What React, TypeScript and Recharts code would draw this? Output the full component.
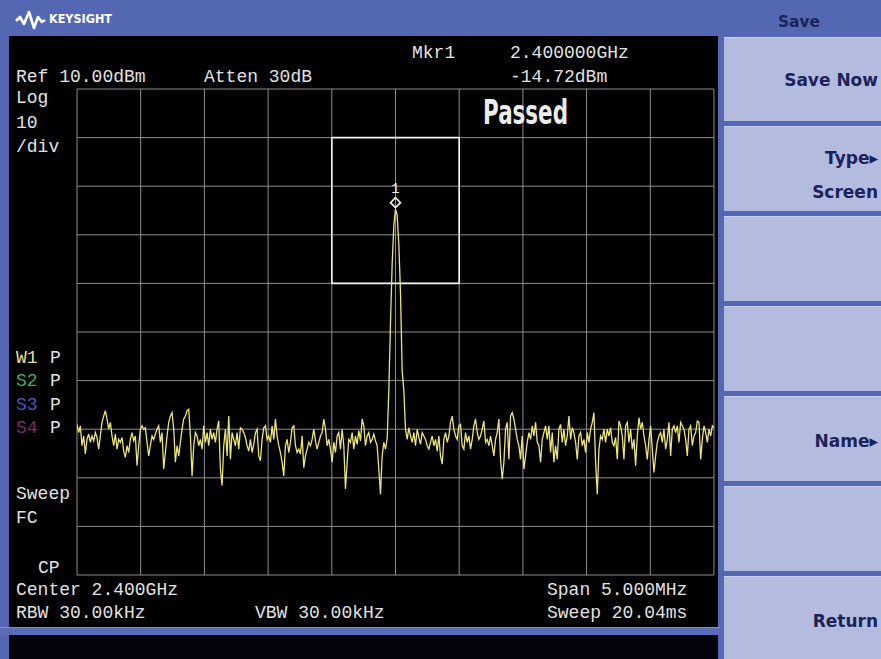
import { LineChart, Line, XAxis, YAxis, ReferenceDot, ReferenceLine } from 'recharts'

// analyzer settings
const centerMHz = 2400
const spanMHz = 5
const freqTicks = [2397.5, 2398, 2398.5, 2399, 2399.5, 2400, 2400.5, 2401, 2401.5, 2402, 2402.5]
const ampTicks = [-90, -80, -70, -60, -50, -40, -30, -20, -10, 0, 10]

// trace, dBm, left to right
const noiseA = [
  -59.0, -60.7, -59.3, -63.4, -61.4, -65.1, -62.1, -61.0, -62.7, -61.4,
  -62.4, -60.7, -61.7, -64.1, -61.4, -58.6, -57.3, -56.2, -57.9, -60.0,
  -58.6, -61.4, -63.4, -61.0, -64.1, -62.1, -62.7, -61.7, -64.5, -65.8,
  -63.4, -64.8, -62.1, -60.7, -62.4, -61.4, -67.5, -63.4, -60.0, -59.3,
  -60.0, -59.7, -62.7, -65.5, -63.4, -61.4, -62.1, -61.0, -60.0, -59.3,
  -62.7, -60.7, -68.2, -64.8, -61.4, -58.6, -57.3, -56.6, -60.0, -66.8,
  -63.4, -65.5, -62.7, -60.0, -57.9, -57.3, -56.2, -55.9, -61.4, -69.6,
  -63.4, -60.7, -61.4, -63.4, -62.1, -64.1, -59.3, -62.7, -60.7, -63.4,
  -60.0, -62.1, -60.7, -62.7, -60.0, -58.3, -68.2, -71.6, -63.4, -60.0,
  -65.5, -57.3, -66.2, -60.7,
]
const noiseB = [
  -62.1, -63.4, -60.7, -64.1, -59.7, -60.0, -60.7, -61.7, -63.4, -64.5,
  -62.1, -64.8, -63.1, -60.7, -60.0, -65.5, -66.5, -62.1, -59.7, -59.3,
  -62.1, -61.4, -62.7, -59.3, -62.1, -57.9, -61.4, -63.4, -64.8, -66.8,
  -69.6, -63.4, -62.1, -64.8, -62.7, -59.7, -59.3, -63.4, -64.8, -64.1,
  -65.1, -61.4, -67.9, -65.5, -64.1, -62.7, -63.4, -62.1, -60.0, -62.4,
  -64.1, -62.7, -61.4, -60.7, -57.9, -60.0, -63.4, -62.1, -64.1, -66.8,
  -62.7, -64.8, -61.4, -60.7, -64.1, -60.0, -63.4, -72.3, -66.8, -62.1,
  -62.7, -60.7, -64.1, -61.4, -63.1, -60.3, -62.4, -57.9, -59.3, -63.4,
  -61.4, -60.7, -62.7, -62.1, -61.0, -62.4, -63.4, -68.2, -73.4, -65.5,
  -62.7, -64.1,
]
const carrier = [-62, -52, -38, -26, -18, -14.72, -16, -22, -32, -48, -52]
const noiseC = [
  -60.0, -62.1, -59.7, -61.4, -62.7, -60.7, -63.4, -60.0, -61.7, -63.1,
  -60.7, -61.4, -62.1, -63.4, -64.1, -62.7, -61.4, -63.4, -62.1, -64.5,
  -61.4, -65.5, -67.2, -62.1, -60.7, -62.7, -61.4, -58.6, -57.3, -60.0,
  -61.4, -62.1, -59.3, -59.0, -63.4, -64.1, -60.7, -62.7, -61.4, -64.1,
  -62.1, -59.3, -57.9, -60.7, -62.1, -61.4, -60.0, -58.3, -62.7, -62.1,
  -63.4, -61.4, -63.4, -65.5, -62.1, -60.7, -57.9, -66.2, -70.3, -66.8,
  -60.0, -58.6, -66.2, -57.3, -56.6, -57.9, -60.0, -62.1, -63.4, -66.2,
  -61.4, -68.2, -65.5, -62.7, -60.7, -62.1, -59.3, -61.4, -58.6, -62.7,
  -63.4, -66.8, -62.1, -60.7, -59.3, -62.1, -59.3, -64.8, -60.7, -66.8,
]
const noiseD = [
  -63.4, -66.2, -60.0, -59.0, -62.7, -60.0, -63.4, -61.4, -57.3, -62.1,
  -59.7, -60.7, -62.7, -66.2, -61.4, -60.7, -63.4, -62.1, -64.8, -60.7,
  -62.7, -60.0, -58.6, -56.6, -66.8, -73.4, -64.1, -61.4, -62.1, -60.0,
  -62.7, -60.0, -61.4, -59.7, -62.7, -63.4, -61.7, -66.2, -58.3, -59.3,
  -61.4, -66.2, -59.3, -58.6, -62.7, -60.0, -64.1, -62.1, -67.5, -61.4,
  -57.6, -60.0, -58.6, -61.4, -63.4, -66.2, -62.1, -59.3, -64.1, -68.9,
  -65.5, -62.7, -61.4, -60.7, -62.7, -60.0, -64.1, -62.1, -58.6, -65.5,
  -60.0, -59.3, -60.7, -59.3, -62.7, -58.6, -59.3, -60.0, -62.1, -65.5,
  -60.0, -59.3, -63.4, -61.4, -60.7, -58.3, -58.6, -66.2, -62.1, -59.3,
  -60.7, -62.7, -60.0, -61.4, -59.3, -59.7,
]
const trace = [...noiseA, ...noiseB, ...carrier, ...noiseC, ...noiseD]

const marker = { f: 2400, amp: -14.72 }
const limitBox = { f1: 2399.5, f2: 2400.5, top: 0, bottom: -30 }

const softkeys = [
  { lines: ['Save Now'] },
  { lines: ['Type\u25B8', 'Screen'] },
  { lines: [] },
  { lines: [] },
  { lines: ['Name\u25B8'] },
  { lines: [] },
  { lines: ['Return'] },
]

const startMHz = centerMHz - spanMHz / 2
const stepMHz = spanMHz / (trace.length - 1)
const data = trace.map((amp, i) => ({ f: startMHz + i * stepMHz, amp }))

const boxEdges = [
  [{ x: limitBox.f1, y: limitBox.top }, { x: limitBox.f2, y: limitBox.top }],
  [{ x: limitBox.f2, y: limitBox.top }, { x: limitBox.f2, y: limitBox.bottom }],
  [{ x: limitBox.f2, y: limitBox.bottom }, { x: limitBox.f1, y: limitBox.bottom }],
  [{ x: limitBox.f1, y: limitBox.bottom }, { x: limitBox.f1, y: limitBox.top }],
]

const BLUE = '#5467b2'
const KEY = '#b3bbdf'
const INK = '#1c2358'
const TXT = '#e2e2e2'
const GRID = '#8e8e8e'
const mono = { fontFamily: '"Liberation Mono", "DejaVu Sans Mono", monospace', fontSize: 18, fill: TXT }

function MarkerShape(props: any) {
  const { cx, cy } = props
  const y = cy - 6.5
  return (
    <g>
      <path d={`M${cx} ${y - 5} L${cx + 5} ${y} L${cx} ${y + 5} L${cx - 5} ${y} Z`} fill="none" stroke="#f2f2f2" strokeWidth={1.6} />
      <text x={cx} y={cy - 16} textAnchor="middle" fontFamily="Liberation Mono, monospace" fontSize={14} fill="#ededed" stroke="none">1</text>
    </g>
  )
}

function SoftkeyPanel() {
  const tops = [37, 126, 216, 306, 396, 486, 576]
  return (
    <>
      {tops.map((t, i) => (
        <div key={i} style={{ position: 'absolute', left: 724, top: t, width: 157, height: (i < 6 ? tops[i + 1] - 6 : 659) - t, background: KEY, borderTop: '1px solid #c8cdec' }} />
      ))}
    </>
  )
}

export default function App() {
  const keyText: { t: string; y: number }[] = [
    { t: softkeys[0].lines[0], y: 86 },
    { t: softkeys[1].lines[0], y: 164 },
    { t: softkeys[1].lines[1], y: 198 },
    { t: softkeys[4].lines[0], y: 447 },
    { t: softkeys[6].lines[0], y: 627 },
  ]
  return (
    <div style={{ position: 'absolute', left: 0, top: 0, width: 881, height: 659, background: BLUE, overflow: 'hidden' }}>
      <div style={{ position: 'absolute', left: 9, top: 36, width: 709, height: 591, background: '#000' }} />
      <div style={{ position: 'absolute', left: 0, top: 627, width: 720, height: 8, background: '#5a6cb8', borderTop: '1px solid #8090d0' }} />
      <div style={{ position: 'absolute', left: 9, top: 635, width: 709, height: 24, background: '#03040c' }} />
      <SoftkeyPanel />

      <div style={{ position: 'absolute', left: 0, top: 0 }}>
        <LineChart width={881} height={659} data={data} margin={{ top: 89, right: 167, bottom: 84, left: 77 }}>
          <XAxis dataKey="f" type="number" domain={[freqTicks[0], freqTicks[freqTicks.length - 1]]} ticks={freqTicks} hide allowDataOverflow />
          <YAxis type="number" domain={[ampTicks[0], ampTicks[ampTicks.length - 1]]} ticks={ampTicks} hide allowDataOverflow />
          {freqTicks.map((f) => (
            <ReferenceLine key={`v${f}`} x={f} stroke={GRID} strokeWidth={1} ifOverflow="visible" />
          ))}
          {ampTicks.map((a) => (
            <ReferenceLine key={`h${a}`} y={a} stroke={GRID} strokeWidth={1} ifOverflow="visible" />
          ))}
          {boxEdges.map((seg, i) => (
            <ReferenceLine key={`b${i}`} segment={seg} stroke="#f4f4f4" strokeWidth={1.6} ifOverflow="visible" />
          ))}
          <Line type="linear" dataKey="amp" stroke="#ebe478" strokeWidth={1.3} dot={false} isAnimationActive={false} />
          <ReferenceDot x={marker.f} y={marker.amp} r={5} shape={MarkerShape} ifOverflow="visible" />
        </LineChart>
      </div>

      <svg width={881} height={659} style={{ position: 'absolute', left: 0, top: 0, pointerEvents: 'none' }}>
        <polyline points="16,21 20,17 24,24 29,12 34,28 38,17 42,22 45,20" fill="none" stroke="#fff" strokeWidth={2.6} strokeLinejoin="round" />
        <text x={49} y={23} fontFamily="DejaVu Sans, sans-serif" fontWeight="bold" fontSize={12} fill="#fff" textLength={63} lengthAdjust="spacingAndGlyphs">KEYSIGHT</text>
        <text x={778} y={27} fontFamily="DejaVu Sans, sans-serif" fontWeight="bold" fontSize={16} fill={INK} textLength={42} lengthAdjust="spacingAndGlyphs">Save</text>
        {keyText.map((k) => (
          <text key={k.t} x={878} y={k.y} textAnchor="end" fontFamily="DejaVu Sans, sans-serif" fontWeight="bold" fontSize={17} fill={INK}>{k.t}</text>
        ))}

        <text x={16} y={82} {...mono}>Ref 10.00dBm</text>
        <text x={204} y={82} {...mono}>Atten 30dB</text>
        <text x={412} y={58} {...mono}>Mkr1</text>
        <text x={510} y={58} {...mono}>2.400000GHz</text>
        <text x={510} y={82} {...mono}>-14.72dBm</text>
        <text x={16} y={103} {...mono}>Log</text>
        <text x={16} y={128} {...mono}>10</text>
        <text x={16} y={152} {...mono}>/div</text>
        <text x={483} y={124} fontFamily="DejaVu Sans, sans-serif" fontWeight="bold" fontSize={33} fill="#ececec" textLength={85} lengthAdjust="spacingAndGlyphs">Passed</text>

        <text x={16} y={363} {...mono} fill="#e6e29a">W1</text>
        <text x={16} y={386} {...mono} fill="#3fae5c">S2</text>
        <text x={16} y={410} {...mono} fill="#4a58b8">S3</text>
        <text x={16} y={433} {...mono} fill="#7c2c6e">S4</text>
        <text x={50} y={363} {...mono}>P</text>
        <text x={50} y={386} {...mono}>P</text>
        <text x={50} y={410} {...mono}>P</text>
        <text x={50} y={433} {...mono}>P</text>

        <text x={16} y={499} {...mono}>Sweep</text>
        <text x={16} y={523} {...mono}>FC</text>
        <text x={38} y={573} {...mono}>CP</text>
        <text x={16} y={595} {...mono}>Center 2.400GHz</text>
        <text x={16} y={618} {...mono}>RBW 30.00kHz</text>
        <text x={255} y={618} {...mono}>VBW 30.00kHz</text>
        <text x={547} y={595} {...mono}>Span 5.000MHz</text>
        <text x={547} y={618} {...mono}>Sweep 20.04ms</text>
      </svg>
    </div>
  )
}
